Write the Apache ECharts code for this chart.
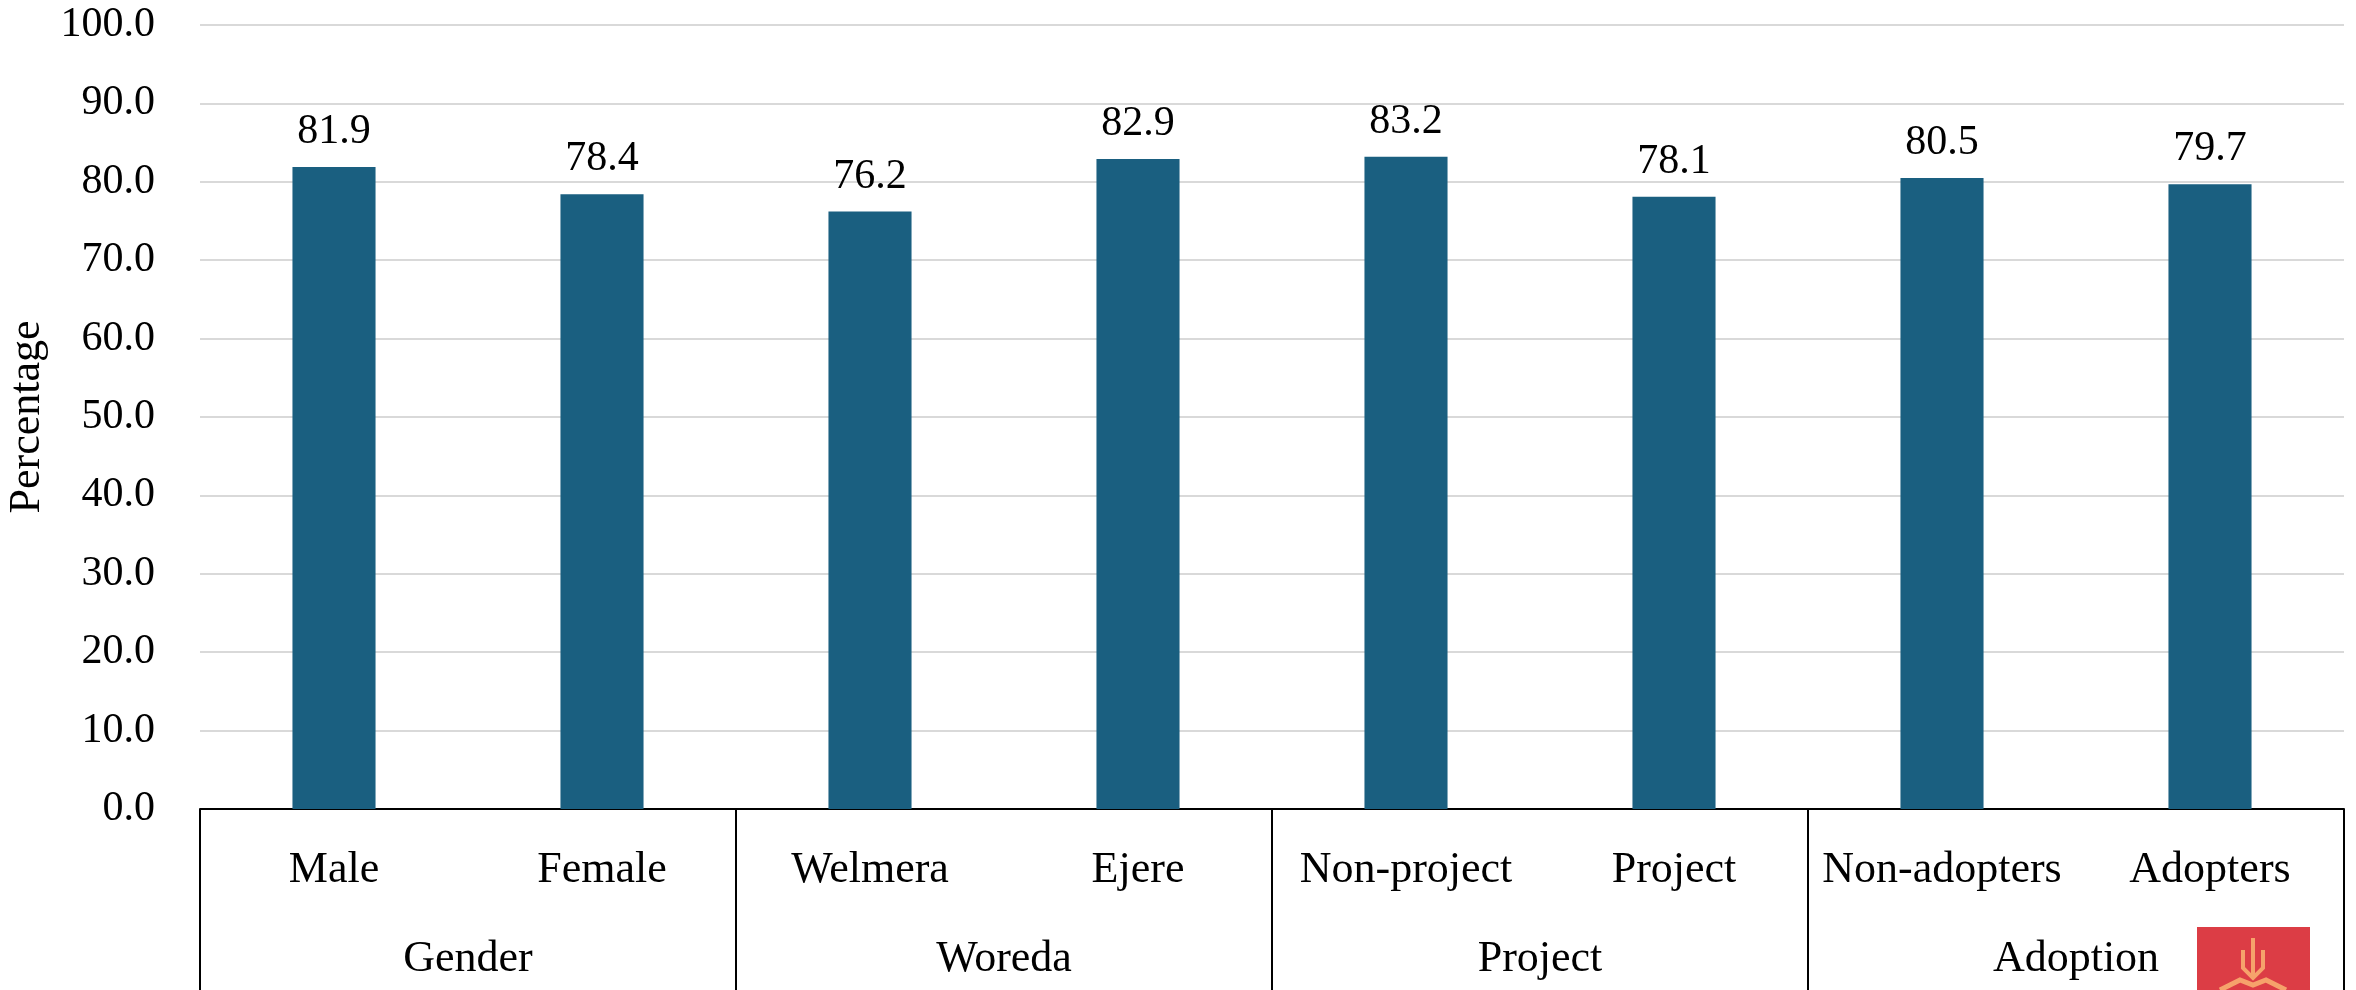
<!DOCTYPE html>
<html>
<head>
<meta charset="utf-8">
<script src="https://cdn.jsdelivr.net/npm/echarts@6/dist/echarts.min.js"></script>
<style>
html,body{margin:0;padding:0;background:#fff;}
#chart{width:2356px;height:990px;}
</style>
</head>
<body>
<div id="chart"></div>
<script>
const categories = ['Male','Female','Welmera','Ejere','Non-project','Project','Non-adopters','Adopters'];
const groups = ['Gender','Woreda','Project','Adoption'];
const values = [81.9, 78.4, 76.2, 82.9, 83.2, 78.1, 80.5, 79.7];
const yTicks = [0,10,20,30,40,50,60,70,80,90,100];

const FONT = 'Liberation Serif';
const chart = echarts.init(document.getElementById('chart'));
chart.setOption({
  backgroundColor: '#ffffff',
  animation: false,
  textStyle: { fontFamily: FONT, color: '#000' },
  grid: { left: 200, right: 12, top: 25, bottom: 181, containLabel: false, outerBoundsMode: 'none' },
  xAxis: [
    {
      type: 'category',
      data: categories,
      position: 'bottom',
      axisLine: { show: true, lineStyle: { color: '#000', width: 2 } },
      axisTick: { show: false },
      axisLabel: { interval: 0, fontSize: 44, fontFamily: FONT, color: '#000', margin: 39 }
    },
    {
      type: 'category',
      data: groups,
      position: 'bottom',
      offset: 0,
      axisLine: { show: false },
      axisTick: { show: true, interval: 0, length: 200, alignWithLabel: false, lineStyle: { color: '#000', width: 2 } },
      axisLabel: { interval: 0, fontSize: 44, fontFamily: FONT, color: '#000', margin: 128 }
    }
  ],
  yAxis: {
    type: 'value',
    min: yTicks[0],
    max: yTicks[yTicks.length - 1],
    interval: 10,
    name: 'Percentage',
    nameLocation: 'middle',
    nameRotate: 90,
    nameGap: 147,
    nameTextStyle: { fontSize: 44, fontFamily: FONT, color: '#000' },
    axisLine: { show: false },
    axisTick: { show: false },
    axisLabel: { fontSize: 42, fontFamily: FONT, color: '#000', margin: 45, formatter: v => v.toFixed(1) },
    splitLine: { show: true, lineStyle: { color: '#D9D9D9', width: 2 } }
  },
  series: [{
    type: 'bar',
    data: values,
    xAxisIndex: 0,
    barWidth: '31%',
    itemStyle: { color: '#1A5F80' },
    label: { show: true, position: 'top', distance: 14, fontSize: 42, fontFamily: FONT, color: '#000', formatter: p => p.value.toFixed(1) }
  }],
  graphic: [
    { type: 'rect', left: 2197, top: 927, shape: { width: 113, height: 80 }, style: { fill: '#DC3D45' }, z: 10 },
    { type: 'polyline', shape: { points: [[2253,938],[2253,975]] }, style: { stroke: '#F6A26B', lineWidth: 4, fill: null }, z: 11 },
    { type: 'polyline', shape: { points: [[2243,950],[2243,968],[2253,978],[2263,968],[2263,950]] }, style: { stroke: '#F6A26B', lineWidth: 4, fill: null }, z: 11 },
    { type: 'polyline', shape: { points: [[2220,990],[2240,980],[2253,985],[2266,980],[2286,990]] }, style: { stroke: '#F6A26B', lineWidth: 5, fill: null }, z: 11 }
  ]
});
</script>
</body>
</html>
